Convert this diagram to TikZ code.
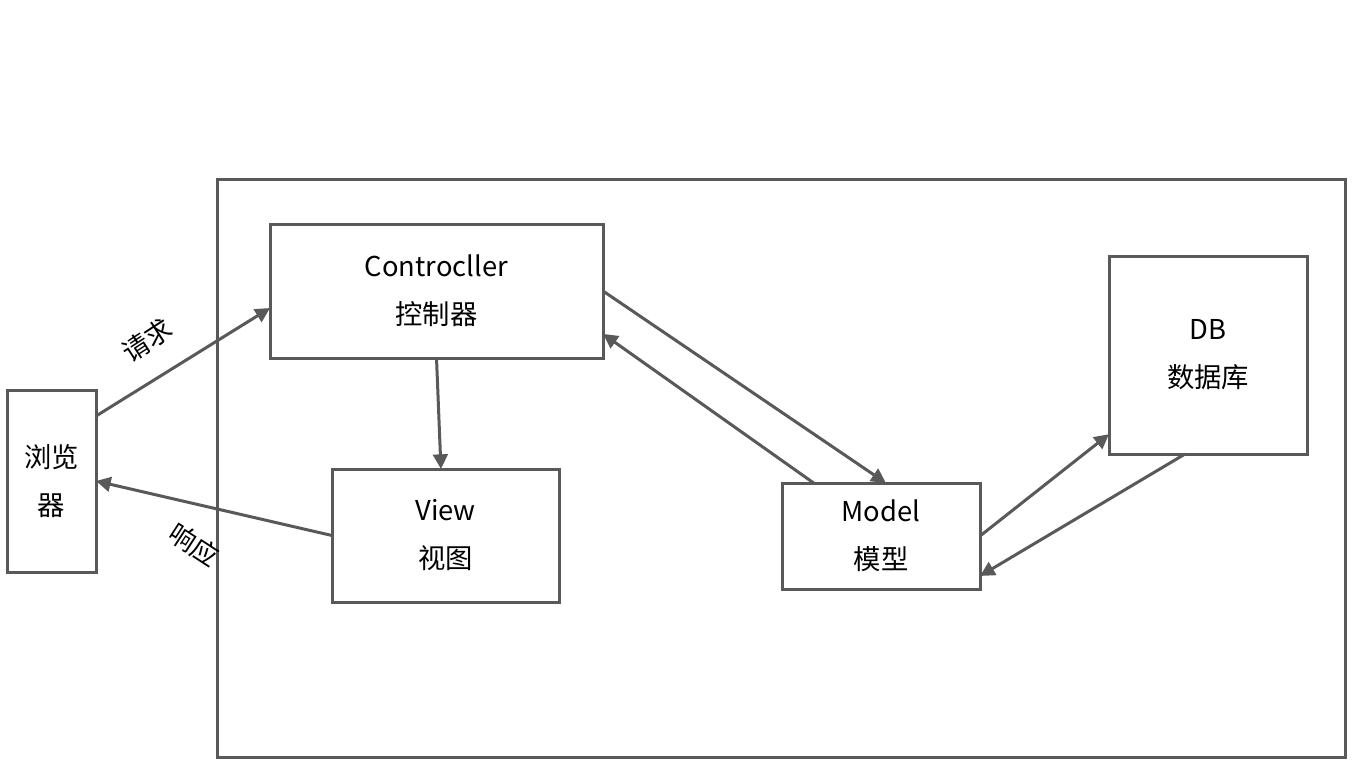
\documentclass[tikz,border=0pt]{standalone}
\usepackage{fontspec}
\setmainfont{Noto Sans CJK SC}
\usetikzlibrary{arrows.meta,calc}
\definecolor{ln}{HTML}{595959}
\begin{document}
\begin{tikzpicture}[x=0.75pt,y=-0.75pt,
  box/.style={draw=ln,line width=2.25pt,inner sep=0pt,outer sep=0pt,anchor=north west,align=center,font=\fontsize{20.5}{36}\selectfont},
  arr/.style={draw=ln,line width=2.25pt,-{Triangle[length=11pt,width=11pt]}},
  lbl/.style={font=\fontsize{20}{22}\selectfont}]
\useasboundingbox (0,0) rectangle (1352,761);
\node[box,minimum width=1128*0.75pt,minimum height=578*0.75pt] (outer) at (217,179) {};
\node[box,minimum width=89*0.75pt,minimum height=182*0.75pt] (br) at (7,390) {浏览\\器};
\node[box,minimum width=333*0.75pt,minimum height=134*0.75pt] (ctrl) at (270,224) {Controcller\\控制器};
\node[box,minimum width=227*0.75pt,minimum height=133*0.75pt] (view) at (332,469) {View\\视图};
\node[box,minimum width=198*0.75pt,minimum height=106*0.75pt] (model) at (782,483) {Model\\模型};
\node[box,minimum width=198*0.75pt,minimum height=198*0.75pt] (db) at (1109,256) {DB\\数据库};
\draw[arr] ($(br.north east)!0.143!(br.south east)$) -- ($(ctrl.north west)!0.627!(ctrl.south west)$);
\draw[arr] (ctrl.south) -- ($(view.north west)!0.48!(view.north east)$);
\draw[arr] (view.west) -- (br.east);
\draw[arr] (ctrl.east) -- ($(model.north west)!0.525!(model.north east)$);
\draw[arr] ($(model.north west)!0.16!(model.north east)$) -- ($(ctrl.north east)!0.82!(ctrl.south east)$);
\draw[arr] (model.east) -- ($(db.north west)!0.9!(db.south west)$);
\draw[arr] ($(db.south west)!0.384!(db.south east)$) -- ($(model.north east)!0.877!(model.south east)$);
\node[lbl,rotate=33] (req) at (147,340) {请求};
\node[lbl,rotate=-33] (resp) at (194,545) {响应};
\end{tikzpicture}
\end{document}
